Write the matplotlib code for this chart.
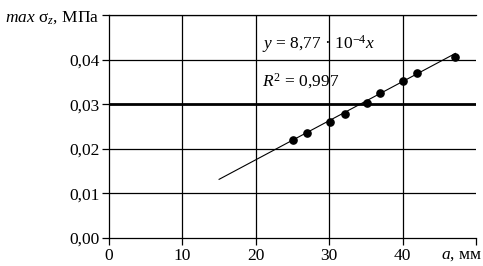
import matplotlib.pyplot as plt
import numpy as np

plt.rcParams['font.family'] = ['Liberation Serif', 'DejaVu Serif']
plt.rcParams['mathtext.fontset'] = 'custom'
plt.rcParams['mathtext.rm'] = 'Liberation Serif'
plt.rcParams['mathtext.it'] = 'Liberation Serif:italic'

# measured points
a_mm = [25.1, 27.0, 30.1, 32.2, 35.1, 36.9, 40.0, 42.0, 47.2]
sigma = [0.0220, 0.0235, 0.0261, 0.0278, 0.0303, 0.0326, 0.0353, 0.0369, 0.0405]

# fit y = k * x
k = 8.77e-4
fit_x = [15, 47.2]

x_ticks = [0, 10, 20, 30, 40, 50]
x_labels = ['0', '10', '20', '30', '40', '']
y_ticks = [0.00, 0.01, 0.02, 0.03, 0.04, 0.05]
y_labels = ['0,00', '0,01', '0,02', '0,03', '0,04', r'$\mathit{max}$ σ$_z$, МПа']

fig = plt.figure(figsize=(4.83, 2.66), dpi=100)
ax = fig.add_axes([0.2257, 0.1053, 0.7598, 0.8383])

ax.set_xlim(0, 50)
ax.set_ylim(0, 0.05)

for xv in x_ticks[1:-1]:
    ax.axvline(xv, color='black', lw=0.9, zorder=1)
for yv in y_ticks[1:]:
    ax.axhline(yv, color='black', lw=2.0 if yv == 0.03 else 0.9, zorder=1)

ax.plot(fit_x, k * np.array(fit_x), color='black', lw=0.8, zorder=2)
ax.plot(a_mm, sigma, 'o', color='black', ms=5.2, zorder=3)

ax.set_xticks(x_ticks)
ax.set_xticklabels(x_labels)
ax.set_yticks(y_ticks)
ax.set_yticklabels(y_labels)
ax.tick_params(direction='out', length=5, width=0.9, labelsize=12.5, color='black', pad=2)

ax.spines['right'].set_visible(False)
for s in ['left', 'bottom', 'top']:
    ax.spines[s].set_linewidth(0.9)

fig.text(0.998, 0.041, r'$a$, мм', ha='right', va='center', fontsize=12.5)
ax.text(20.8, 0.0435, r'$y$ = 8,77 · 10$^{-4}$$x$', fontsize=12.5, va='center', ha='left')
ax.text(20.9, 0.0352, r'$R^2$ = 0,997', fontsize=12.5, va='center', ha='left')

fig.savefig('out.png', dpi=100)
